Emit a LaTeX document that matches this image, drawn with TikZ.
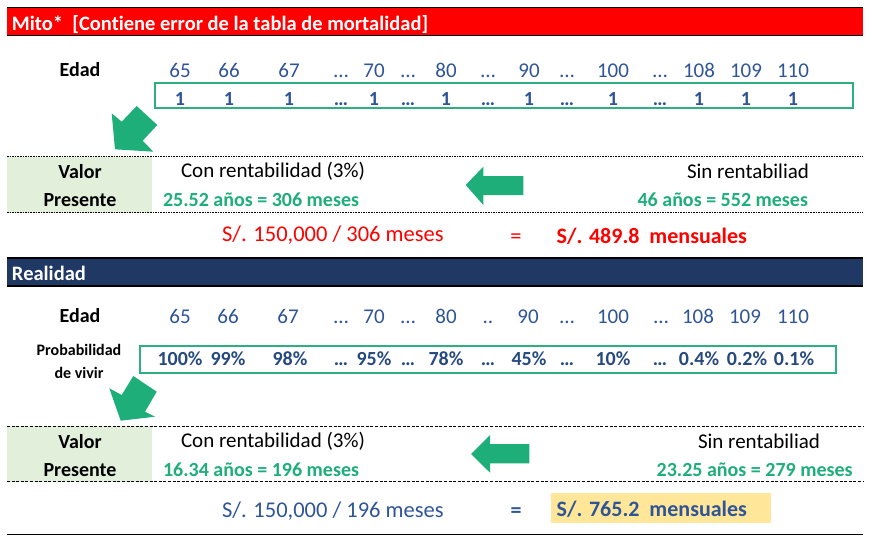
\documentclass[tikz,border=0pt]{standalone}
\usepackage{fontspec}
\setmainfont{Carlito}[Ligatures=NoCommon]
\definecolor{myred}{HTML}{FF0000}
\definecolor{mynavy}{HTML}{203864}
\definecolor{mygreen}{HTML}{1DAE7A}
\definecolor{boxgreen}{HTML}{2DB07F}
\definecolor{myblue}{HTML}{2F5597}
\definecolor{darkblue}{HTML}{264A7E}
\definecolor{cellgreen}{HTML}{E2EFDA}
\definecolor{hilite}{HTML}{FFE699}
\newcommand{\fsz}[1]{\fontsize{#1}{#1}\selectfont}
\tikzset{
  txt/.style={inner sep=0pt, outer sep=0pt},
  big/.style={txt, font=\fsz{21}},
  bigb/.style={txt, font=\fsz{20}\bfseries},
  res/.style={txt, font=\fsz{22.5}},
  resb/.style={txt, font=\fsz{22}\bfseries},
  gbox/.style={draw=boxgreen, line width=2pt},
  garrow/.style={fill=mygreen, draw=none},
  dashA/.style={line width=1.3pt, dash pattern=on 1.6pt off 1pt},
  dashB/.style={line width=0.7pt, dash pattern=on 3pt off 1.6pt},
}
\begin{document}
\begin{tikzpicture}[x=1pt,y=-1pt]
\useasboundingbox (0,0) rectangle (879,543);
% ===== Section 1: Mito =====
\fill[myred] (7,8) rectangle (863,35.5);
\draw[line width=1pt] (7,8) -- (863,8);
\draw[line width=1.6pt] (7,35.5) -- (863,35.5);
\node[txt, font=\fsz{20.5}\bfseries, text=white, anchor=base west] (title1) at (12,31) {Mito*\ \ [Contiene error de la tabla de mortalidad]};
\node[bigb, anchor=base] (edad1) at (80,77) {Edad};
\foreach \x/\t [count=\i] in {180/65, 229/66, 289/67, 341/…, 374/70, 408/…, 446/80, 488/…, 529/90, 567/…, 613/100, 660/…, 699/108, 746/109, 793/110}
  \node[big, text=myblue, anchor=base] (ageA\i) at (\x,77.3) {\t};
\draw[gbox] (155,83.5) rectangle (853,108.5);
\foreach \x/\t [count=\i] in {180/1, 229/1, 289/1, 341/…, 374/1, 408/…, 446/1, 488/…, 529/1, 567/…, 613/1, 660/…, 699/1, 746/1, 793/1}
  \node[bigb, text=myblue, anchor=base] (valA\i) at (\x,106) {\t};
% diagonal arrow
\fill[garrow] (111.7,113.3) -- (121.7,121.7) -- (136.7,106) -- (157.3,125) -- (142.7,140.7) -- (153.3,151.7) -- (115,149.3) -- cycle;
% valor presente block
\fill[cellgreen] (7,157) rectangle (152,212.7);
\draw[dashA] (7,156.7) -- (863,156.7);
\draw[dashA] (7,212.7) -- (863,212.7);
\node[bigb, anchor=base] (vp1a) at (80,178.3) {Valor};
\node[bigb, anchor=base] (vp1b) at (80,206) {Presente};
\node[big, anchor=base west] (con1) at (181,177.7) {Con rentabilidad (3\%)};
\node[bigb, text=mygreen, anchor=base west] (con1v) at (163,206) {25.52 años = 306 meses};
\node[big, anchor=base east] (sin1) at (809,178.3) {Sin rentabiliad};
\node[bigb, text=mygreen, anchor=base east] (sin1v) at (808,206) {46 años = 552 meses};
\fill[garrow] (465.7,185) -- (483.3,166.7) -- (483.3,176) -- (523.3,176) -- (523.3,195) -- (483.3,195) -- (483.3,205) -- cycle;
\node[res, text=myred, anchor=base west] (calc1) at (222,241.7) {S/. 150,000 / 306 meses};
\node[res, text=myred, anchor=base] (eq1) at (516,243) {=};
\node[resb, text=myred, anchor=base west] (out1) at (556.7,243.3) {S/. 489.8\ \ mensuales};
% ===== Section 2: Realidad =====
\fill[mynavy] (7,258.3) rectangle (863,286);
\draw[line width=2pt] (7,258.3) -- (863,258.3);
\draw[line width=1.6pt] (7,286) -- (863,286);
\node[txt, font=\fsz{20.5}\bfseries, text=white, anchor=base west] (title2) at (12,280.7) {Realidad};
\node[bigb, anchor=base] (edad2) at (80,322.7) {Edad};
\foreach \x/\t [count=\i] in {180/65, 228/66, 288/67, 341/…, 374/70, 408/…, 446/80, 488/.., 528/90, 567/…, 613/100, 661/…, 698/108, 745/109, 793/110}
  \node[big, text=myblue, anchor=base] (ageB\i) at (\x,323.3) {\t};
\node[txt, font=\fsz{16}\bfseries, anchor=base] (prob1) at (79,355) {Probabilidad};
\node[txt, font=\fsz{16}\bfseries, anchor=base] (prob2) at (79,378.3) {de vivir};
\draw[gbox] (140,346) rectangle (836,372.7);
\foreach \x/\t [count=\i] in {180/100\%, 228/99\%, 290/98\%, 341/…, 374/95\%, 408/…, 446/78\%, 488/…, 529/45\%, 567/…, 613/10\%, 660/…, 699/0.4\%, 747/0.2\%, 794/0.1\%}
  \node[bigb, text=darkblue, anchor=base] (valB\i) at (\x,365) {\t};
\fill[garrow] (109.3,388.3) -- (121.7,395) -- (133.3,376) -- (156.7,391.7) -- (145,411.7) -- (155,416.7) -- (120.7,420.7) -- cycle;
\fill[cellgreen] (7,426) rectangle (152,481.7);
\draw[dashB] (7,426) -- (863,426);
\draw[dashB] (7,481.7) -- (863,481.7);
\node[bigb, anchor=base] (vp2a) at (80,448.3) {Valor};
\node[bigb, anchor=base] (vp2b) at (80,476.7) {Presente};
\node[big, anchor=base west] (con2) at (181,447.3) {Con rentabilidad (3\%)};
\node[bigb, text=mygreen, anchor=base west] (con2v) at (163,476.7) {16.34 años = 196 meses};
\node[big, anchor=base east] (sin2) at (820,448.3) {Sin rentabiliad};
\node[bigb, text=mygreen, anchor=base east] (sin2v) at (852.7,476) {23.25 años = 279 meses};
\fill[garrow] (471,454) -- (490,435) -- (490,444) -- (529.3,444) -- (529.3,463.3) -- (490,463.3) -- (490,472.7) -- cycle;
\fill[hilite] (551,492.7) rectangle (771,523.3);
\node[res, text=myblue, anchor=base west] (calc2) at (222,517.7) {S/. 150,000 / 196 meses};
\node[resb, text=myblue, anchor=base] (eq2) at (516,517) {=};
\node[resb, text=myblue, anchor=base west] (out2) at (556.7,516.7) {S/. 765.2\ \ mensuales};
\draw[line width=1pt] (7,534.3) -- (863,534.3);
\end{tikzpicture}
\end{document}
